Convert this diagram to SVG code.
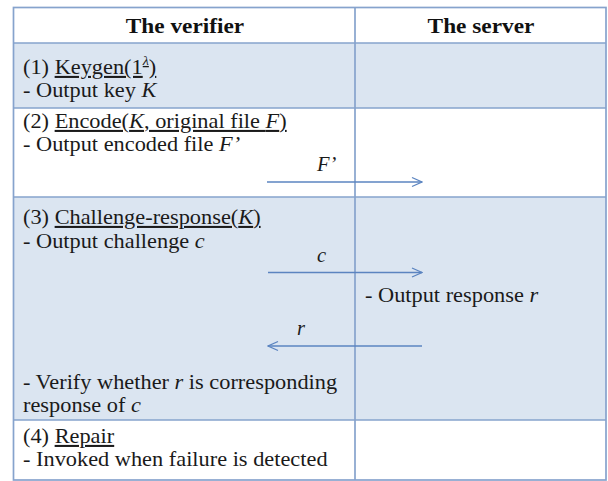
<svg xmlns="http://www.w3.org/2000/svg" width="608" height="481" viewBox="0 0 608 481">
  <defs>
    <style>
      .grid { stroke: #86a3cd; stroke-width: 1.7; fill: none; }
      .shade { fill: #dbe5f1; }
      .plain { fill: #ffffff; }
      .hdr { font-size: 22px; font-weight: bold; fill: #111; text-anchor: middle; }
      .txt { font-size: 20.5px; fill: #1a1a1a; }
      .it { font-style: italic; }
      .ul { text-decoration: underline; }
      .msg { stroke: #5b84c0; stroke-width: 1.4; fill: none; }
    </style>
    <marker id="open" viewBox="0 0 12 12" refX="11" refY="6" markerWidth="12" markerHeight="12" markerUnits="userSpaceOnUse" orient="auto-start-reverse">
      <path d="M1,1.5 L11,6 L1,10.5" fill="none" stroke="#5b84c0" stroke-width="1.3"/>
    </marker>
  </defs>

  <!-- row backgrounds -->
  <rect class="plain" x="13.5" y="7.5" width="592.5" height="35.5"/>
  <rect class="shade" x="13.5" y="43" width="592.5" height="65"/>
  <rect class="plain" x="13.5" y="108" width="592.5" height="89"/>
  <rect class="shade" x="13.5" y="197" width="592.5" height="223"/>
  <rect class="plain" x="13.5" y="420" width="592.5" height="60"/>

  <!-- table rules -->
  <g id="table-grid">
    <rect class="grid" x="13.5" y="7.5" width="592.5" height="472.5"/>
    <line class="grid" x1="355" y1="7.5" x2="355" y2="480"/>
    <line class="grid" x1="13.5" y1="43" x2="606" y2="43" stroke-width="2.2"/>
    <line class="grid" x1="13.5" y1="108" x2="606" y2="108"/>
    <line class="grid" x1="13.5" y1="197" x2="606" y2="197"/>
    <line class="grid" x1="13.5" y1="420" x2="606" y2="420"/>
  </g>

  <g font-family="Liberation Serif, DejaVu Serif, serif">
    <!-- column headers -->
    <g id="hdr-verifier" transform="translate(185,0) scale(1.06,1)"><text class="hdr" x="0" y="33">The verifier</text></g>
    <g id="hdr-server" transform="translate(481,0) scale(1.06,1)"><text class="hdr" x="0" y="33">The server</text></g>

    <!-- verifier column: text is set slightly wide -->
    <g transform="translate(23,0) scale(1.09,1)">
      <!-- step 1 -->
      <g id="step-keygen">
        <text class="txt" x="0" y="74">(1) <tspan class="ul">Keygen(1<tspan class="it" font-size="13" dy="-9">λ</tspan><tspan dy="9">)</tspan></tspan></text>
        <text class="txt" x="0" y="97">- Output key <tspan class="it">K</tspan></text>
      </g>

      <!-- step 2 -->
      <g id="step-encode">
        <text class="txt" x="0" y="128">(2) <tspan class="ul">Encode(<tspan class="it">K</tspan>, original file <tspan class="it">F</tspan>)</tspan></text>
        <text class="txt" x="0" y="151">- Output encoded file <tspan class="it">F’</tspan></text>
      </g>

      <!-- step 3 -->
      <g id="step-challenge">
        <text class="txt" x="0" y="224">(3) <tspan class="ul">Challenge-response(<tspan class="it">K</tspan>)</tspan></text>
        <text class="txt" x="0" y="248">- Output challenge <tspan class="it">c</tspan></text>
        <text class="txt" x="0" y="389">- Verify whether <tspan class="it">r</tspan> is corresponding</text>
        <text class="txt" x="0" y="412">response of <tspan class="it">c</tspan></text>
      </g>

      <!-- step 4 -->
      <g id="step-repair">
        <text class="txt" x="0" y="443">(4) <tspan class="ul">Repair</tspan></text>
        <text class="txt" x="0" y="466">- Invoked when  failure is detected</text>
      </g>
    </g>

    <!-- server column -->
    <g id="server-response" transform="translate(365,0) scale(1.09,1)">
      <text class="txt" x="0" y="302">- Output response <tspan class="it">r</tspan></text>
    </g>

    <g id="message-labels">
      <text class="txt it" x="317" y="171">F’</text>
      <text class="txt it" x="317" y="262">c</text>
      <text class="txt it" x="297" y="335">r</text>
    </g>
  </g>

  <!-- messages between verifier and server -->
  <g id="messages">
    <line class="msg" x1="267" y1="182" x2="422" y2="182" marker-end="url(#open)"/>
    <line class="msg" x1="268" y1="272.5" x2="422" y2="272.5" marker-end="url(#open)"/>
    <line class="msg" x1="422" y1="346" x2="268" y2="346" marker-end="url(#open)"/>
  </g>
</svg>
